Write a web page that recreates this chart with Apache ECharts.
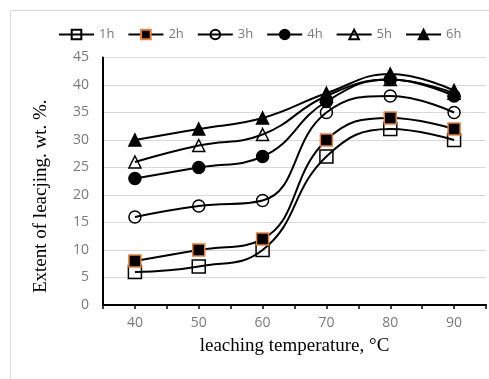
<!DOCTYPE html>
<html>
<head>
<meta charset="utf-8">
<script src="https://cdn.jsdelivr.net/npm/echarts@6/dist/echarts.min.js"></script>
<style>
html,body{margin:0;padding:0;background:#fff;}
#chart{width:489px;height:379px;}
</style>
</head>
<body>
<div id="chart"></div>
<script>
const temps = [40, 50, 60, 70, 80, 90];
const s1h = [6, 7, 10, 27, 32, 30];
const s2h = [8, 10, 12, 30, 34, 32];
const s3h = [16, 18, 19, 35, 38, 35];
const s4h = [23, 25, 27, 37, 41, 38];
const s5h = [26, 29, 31, 38, 41, 38.5];
const s6h = [30, 32, 34, 38.5, 42, 39];
const seriesNames = ['1h', '2h', '3h', '4h', '5h', '6h'];
const xTickLabels = [40, 50, 60, 70, 80, 90];

const pairs = (ys) => temps.map((t, i) => [t, ys[i]]);
const clear = 'rgba(255,255,255,0)';
const styles = [
  {symbol: 'rect', size: 13, fill: clear, border: '#000'},
  {symbol: 'rect', size: 12, fill: '#000', border: '#ED7D31'},
  {symbol: 'circle', size: 12, fill: clear, border: '#000'},
  {symbol: 'circle', size: 12, fill: '#000', border: '#000'},
  {symbol: 'triangle', size: 12, fill: clear, border: '#000'},
  {symbol: 'triangle', size: 12, fill: '#000', border: '#000'}
];
const allData = [s1h, s2h, s3h, s4h, s5h, s6h];

const chart = echarts.init(document.getElementById('chart'), null, {renderer: 'canvas'});
chart.setOption({
  animation: false,
  graphic: [{
    type: 'rect', z: -10,
    shape: {x: 10.5, y: 10.5, width: 600, height: 600},
    style: {fill: 'none', stroke: '#d9d9d9', lineWidth: 1}
  }],
  legend: {
    top: 23, left: 53, width: 436,
    itemWidth: 35, itemHeight: 12, itemGap: 13,
    textStyle: {color: '#7a7a7a', fontSize: 13, fontFamily: 'Open Sans'},
    data: seriesNames
  },
  grid: {left: 103, top: 57.5, width: 395, height: 247.5},
  xAxis: {
    type: 'value', min: 35, max: 95, interval: 5,
    name: 'leaching temperature, \u00B0C', nameLocation: 'middle', nameGap: 32,
    nameTextStyle: {color: '#000', fontSize: 19, fontFamily: 'Liberation Serif'},
    axisLine: {show: true, lineStyle: {color: '#000', width: 2}},
    axisTick: {show: true, length: 4, lineStyle: {color: '#000', width: 1.5}},
    axisLabel: {
      color: '#7a7a7a', fontSize: 14, fontFamily: 'Open Sans', margin: 11,
      formatter: (v) => xTickLabels.indexOf(v) >= 0 ? String(v) : ''
    },
    splitLine: {show: false}
  },
  yAxis: {
    type: 'value', min: 0, max: 45, interval: 5,
    name: 'Extent of leacjing. wt. %.', nameLocation: 'middle', nameGap: 52,
    nameTextStyle: {color: '#000', fontSize: 19, fontFamily: 'Liberation Serif', padding: [0, 30, 0, 0]},
    axisLine: {show: true, lineStyle: {color: '#000', width: 2}},
    axisTick: {show: false},
    axisLabel: {color: '#7a7a7a', fontSize: 14, fontFamily: 'Open Sans', margin: 14},
    splitLine: {show: true, lineStyle: {color: '#d9d9d9', width: 1}}
  },
  series: allData.map((d, i) => ({
    name: seriesNames[i],
    type: 'line',
    data: pairs(d),
    smooth: 0.45,
    symbol: styles[i].symbol,
    symbolSize: styles[i].size,
    showAllSymbol: true,
    lineStyle: {color: '#000', width: 2},
    itemStyle: {color: styles[i].fill, borderColor: styles[i].border, borderWidth: 1.5, opacity: 1},
    emphasis: {disabled: true}
  }))
});
</script>
</body>
</html>
